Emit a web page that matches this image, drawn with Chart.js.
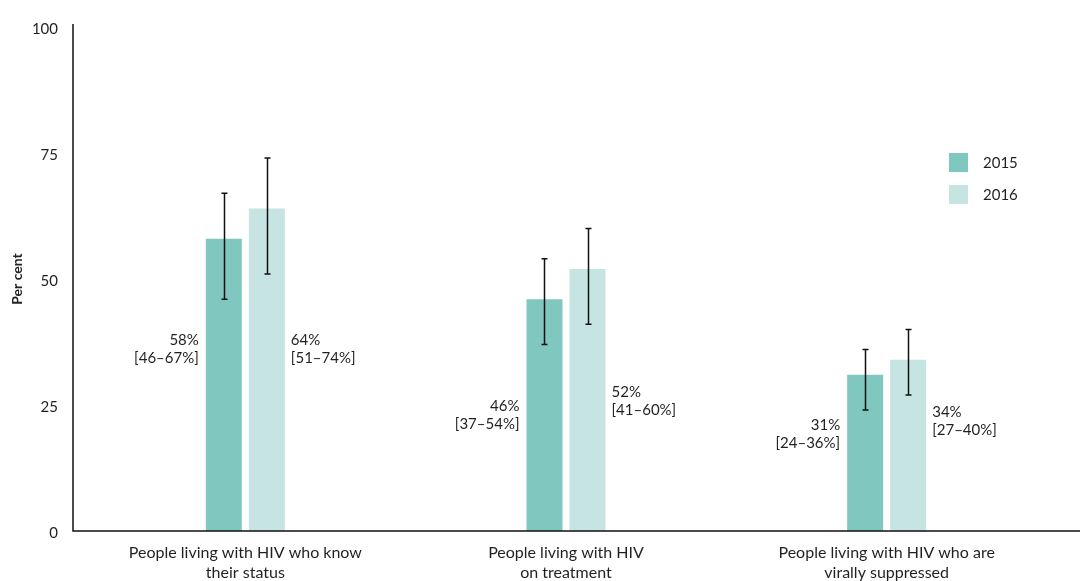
<!DOCTYPE html>
<html><head><meta charset="utf-8">
<script src="https://cdn.jsdelivr.net/npm/chart.js@4/dist/chart.umd.min.js"></script>
<style>html,body{margin:0;padding:0;background:#fff}#wrap{width:1080px;height:581px}</style>
</head>
<body><div id="wrap"><canvas id="c" width="1080" height="581"></canvas></div>
<script>
const categories = [
  ["People living with HIV who know", "their status"],
  ["People living with HIV", "on treatment"],
  ["People living with HIV who are", "virally suppressed"]
];
const seriesNames = ["2015", "2016"];
const values2015 = [58, 46, 31];
const values2016 = [64, 52, 34];
const low2015 = [46, 37, 24];
const high2015 = [67, 54, 36];
const low2016 = [51, 41, 27];
const high2016 = [74, 60, 40];
const yTicks = [0, 25, 50, 75, 100];
const yTitle = "Per cent";

const FONT = "Lato, 'Noto Sans', sans-serif";
const TEXT = "#231f20";

const errorBars = {
  id: 'errorBars',
  afterDatasetsDraw(chart) {
    const ctx = chart.ctx, y = chart.scales.y;
    const lows = [low2015, low2016], highs = [high2015, high2016];
    ctx.save();
    ctx.strokeStyle = '#111';
    ctx.lineWidth = 1.5;
    chart.data.datasets.forEach((ds, di) => {
      chart.getDatasetMeta(di).data.forEach((el, i) => {
        const x = Math.round(el.x) + 0.5;
        const y1 = y.getPixelForValue(lows[di][i]);
        const y2 = y.getPixelForValue(highs[di][i]);
        ctx.beginPath();
        ctx.moveTo(x, y1); ctx.lineTo(x, y2);
        ctx.moveTo(x - 3, y1); ctx.lineTo(x + 3, y1);
        ctx.moveTo(x - 3, y2); ctx.lineTo(x + 3, y2);
        ctx.stroke();
      });
    });
    ctx.restore();
  }
};

const valueLabels = {
  id: 'valueLabels',
  afterDatasetsDraw(chart, args, opts) {
    const ctx = chart.ctx, y = chart.scales.y;
    const vals = [values2015, values2016], lows = [low2015, low2016], highs = [high2015, high2016];
    ctx.save();
    ctx.font = '15px ' + FONT;
    ctx.fillStyle = TEXT;
    ctx.textBaseline = 'middle';
    chart.data.datasets.forEach((ds, di) => {
      chart.getDatasetMeta(di).data.forEach((el, i) => {
        const cy = y.getPixelForValue(opts.anchors[i][di]);
        const lines = [vals[di][i] + '%', '[' + lows[di][i] + '\u2013' + highs[di][i] + '%]'];
        let x;
        if (di === 0) { ctx.textAlign = 'right'; x = el.x - el.width / 2 - 7; }
        else { ctx.textAlign = 'left'; x = el.x + el.width / 2 + 6; }
        ctx.fillText(lines[0], x, cy - 9);
        ctx.fillText(lines[1], x, cy + 9);
      });
    });
    ctx.restore();
  }
};

const axisLines = {
  id: 'axisLines',
  afterDraw(chart) {
    const ctx = chart.ctx, a = chart.chartArea;
    const x0 = a.left - 12;
    ctx.save();
    ctx.strokeStyle = '#111';
    ctx.lineWidth = 1.5;
    ctx.beginPath();
    ctx.moveTo(x0, a.top - 3);
    ctx.lineTo(x0, a.bottom);
    ctx.lineTo(chart.width, a.bottom);
    ctx.stroke();
    ctx.restore();
  }
};

const customLegend = {
  id: 'customLegend',
  afterDraw(chart) {
    const ctx = chart.ctx;
    ctx.save();
    ctx.font = '15px ' + FONT;
    ctx.textBaseline = 'middle';
    ctx.textAlign = 'left';
    chart.data.datasets.forEach((ds, i) => {
      const top = 153 + i * 32;
      ctx.fillStyle = ds.backgroundColor;
      ctx.fillRect(949, top, 19, 19);
      ctx.fillStyle = TEXT;
      ctx.fillText(ds.label, 983, top + 10);
    });
    ctx.restore();
  }
};

new Chart(document.getElementById('c'), {
  type: 'bar',
  data: {
    labels: categories,
    datasets: [
      { label: seriesNames[0], data: values2015, backgroundColor: '#7fc7bf' },
      { label: seriesNames[1], data: values2016, backgroundColor: '#c6e4e1' }
    ]
  },
  options: {
    responsive: false,
    animation: false,
    devicePixelRatio: 1,
    layout: { padding: { top: 27, right: 33, left: 0, bottom: 0 } },
    datasets: { bar: { categoryPercentage: 0.2683, barPercentage: 0.837 } },
    plugins: {
      legend: { display: false },
      tooltip: { enabled: false },
      valueLabels: { anchors: [[36, 36], [23, 25.8], [19.3, 21.7]] }
    },
    scales: {
      x: {
        grid: { display: false, drawTicks: false },
        border: { display: false },
        ticks: { font: { family: FONT, size: 16, lineHeight: 1.25 }, color: TEXT, padding: 12, maxRotation: 0, autoSkip: false },
        afterFit(s) { s.height = 50; }
      },
      y: {
        min: 0, max: 100,
        grid: { display: false, drawTicks: false },
        border: { display: false },
        afterBuildTicks(s) { s.ticks = yTicks.map(v => ({ value: v })); },
        ticks: { font: { family: FONT, size: 15 }, color: TEXT, padding: 27, labelOffset: 2 },
        title: { display: true, text: yTitle, font: { family: FONT, size: 14, weight: 'bold' }, color: TEXT, padding: { top: 9, bottom: 0 } },
        afterFit(s) { s.width = 85; s.paddingTop = 0; s.paddingBottom = 0; }
      }
    }
  },
  plugins: [errorBars, valueLabels, axisLines, customLegend]
});
</script>
</body></html>
